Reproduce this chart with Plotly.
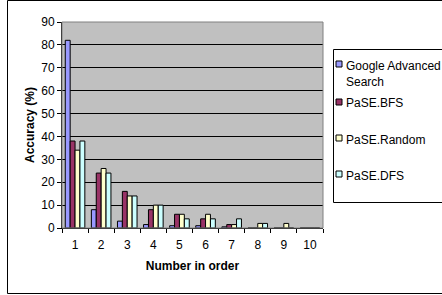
import plotly.graph_objects as go

categories = ["1", "2", "3", "4", "5", "6", "7", "8", "9", "10"]
google = [82, 8, 3, 1.5, 1, 1, 0.5, 0, 0, 0]
bfs = [38, 24, 16, 8, 6, 4, 1.5, 0, 0, 0]
random_ = [34, 26, 14, 10, 6, 6, 1.5, 2, 2, 0]
dfs = [38, 24, 14, 10, 4, 4, 4, 2, 0, 0]

series = [
    ("Google Advanced<br>Search", google, "#9999FF"),
    ("PaSE.BFS", bfs, "#993366"),
    ("PaSE.Random", random_, "#FFFFCC"),
    ("PaSE.DFS", dfs, "#CCFFFF"),
]

W, H = 442, 295
L, R, T, B = 62, 323, 22, 228
FONT = "Liberation Sans, Arial, sans-serif"

def px_x(x):
    return (x - L) / (R - L)

def px_y(y):
    return (B - y) / (B - T)

fig = go.Figure()
for name, vals, col in series:
    fig.add_trace(go.Bar(x=categories, y=vals, name=name,
                         marker=dict(color=col, line=dict(color="#000000", width=1)),
                         showlegend=False))

shapes = []
annotations = []
# outer chart border
shapes.append(dict(type="rect", xref="paper", yref="paper",
                   x0=px_x(7.5), x1=px_x(460), y0=px_y(293.5), y1=px_y(0.5),
                   line=dict(color="#000000", width=1), layer="below"))
# plot area border
shapes.append(dict(type="rect", xref="paper", yref="paper",
                   x0=0, x1=1, y0=0, y1=1,
                   line=dict(color="#808080", width=1), layer="above"))
# legend box
shapes.append(dict(type="rect", xref="paper", yref="paper",
                   x0=px_x(333.5), x1=px_x(460), y0=px_y(202.5), y1=px_y(49.5),
                   line=dict(color="#000000", width=1), fillcolor="#FFFFFF"))
leg_y = [64, 102, 138, 174]
for (name, vals, col), yy in zip(series, leg_y):
    shapes.append(dict(type="rect", xref="paper", yref="paper",
                       x0=px_x(336), x1=px_x(342), y0=px_y(yy + 3), y1=px_y(yy - 3),
                       line=dict(color="#000000", width=1), fillcolor=col))
    annotations.append(dict(xref="paper", yref="paper", x=px_x(344),
                            y=px_y(yy - 7.5), xanchor="left", yanchor="top",
                            text=name, showarrow=False, align="left",
                            font=dict(family=FONT, size=12, color="#000000")))

fig.update_layout(
    width=W, height=H,
    margin=dict(l=L, r=W - R, t=T, b=H - B, pad=0),
    paper_bgcolor="#FFFFFF", plot_bgcolor="#C0C0C0",
    barmode="group", bargap=0.25, bargroupgap=0,
    font=dict(family=FONT, size=12, color="#000000"),
    shapes=shapes, annotations=annotations,
    xaxis=dict(type="category", showgrid=False, showline=True, linecolor="#000000",
               linewidth=1, ticks="outside", ticklen=4, tickcolor="#000000",
               tickson="boundaries", ticklabelstandoff=6,
               title=dict(text="<b>Number in order</b>", standoff=10,
                          font=dict(family=FONT, size=12))),
    yaxis=dict(range=[0, 90], dtick=10, showgrid=True, gridcolor="#000000",
               gridwidth=1, showline=True, linecolor="#000000", linewidth=1,
               ticks="outside", ticklen=4, tickcolor="#000000", zeroline=False,
               title=dict(text="<b>Accuracy (%)</b>", standoff=4,
                          font=dict(family=FONT, size=12))),
)

fig.write_html("out.html",
               config={"displayModeBar": False},
               post_script="document.body.style.margin='0';document.body.style.overflow='hidden';")
